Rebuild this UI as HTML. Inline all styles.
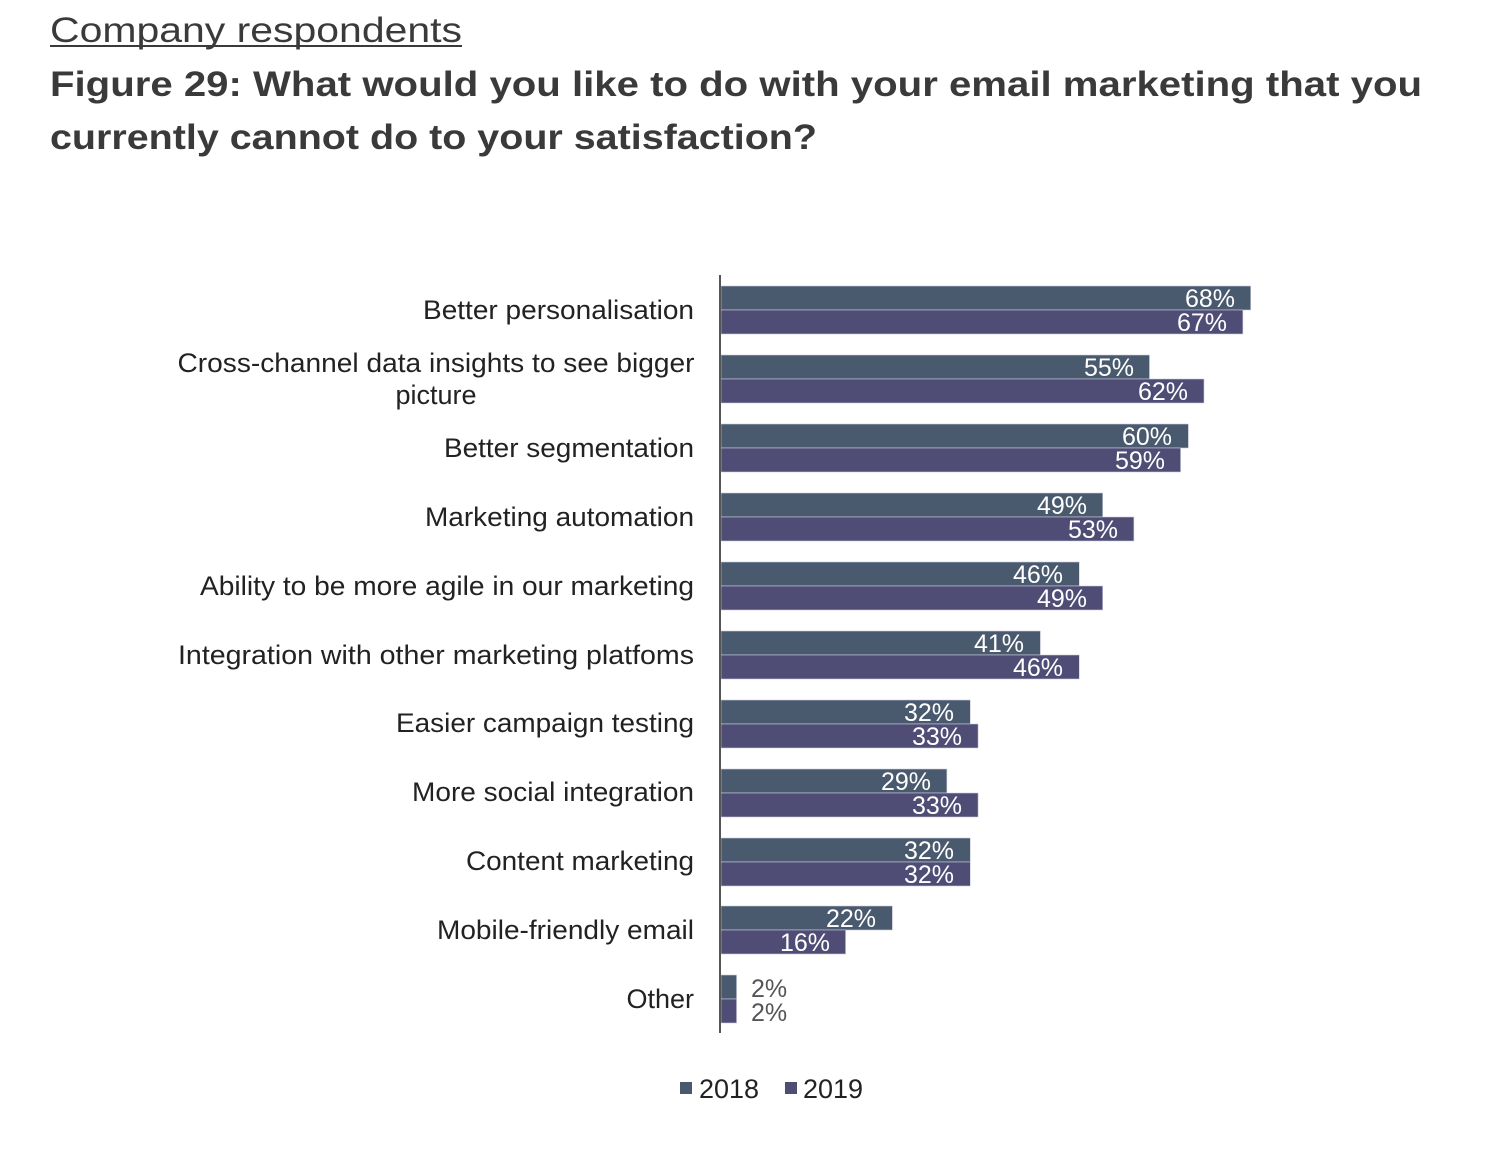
<!DOCTYPE html>
<html><head><meta charset="utf-8"><style>body{margin:0;background:#fff}svg{display:block}</style></head>
<body>
<svg width="1500" height="1172" viewBox="0 0 1500 1172" xmlns="http://www.w3.org/2000/svg" font-family="Liberation Sans, Arial, sans-serif">
<text x="50" y="42" font-size="35" fill="#3a3a3a" textLength="412" lengthAdjust="spacingAndGlyphs">Company respondents</text>
<rect x="50" y="45" width="412" height="2" fill="#3a3a3a"/>
<text x="50" y="96" font-size="35" font-weight="bold" fill="#3a3a3a" textLength="1372" lengthAdjust="spacingAndGlyphs">Figure 29: What would you like to do with your email marketing that you</text>
<text x="50" y="149" font-size="35" font-weight="bold" fill="#3a3a3a" textLength="767" lengthAdjust="spacingAndGlyphs">currently cannot do to your satisfaction?</text>

<g stroke="#ccd" stroke-width="0.6">
<rect x="721" y="286" width="529.7" height="24" fill="#4a5a6e"/><rect x="721" y="310" width="521.9" height="24" fill="#4f4d75"/>
<rect x="721" y="355" width="428.5" height="24" fill="#4a5a6e"/><rect x="721" y="379" width="483.0" height="24" fill="#4f4d75"/>
<rect x="721" y="424" width="467.4" height="24" fill="#4a5a6e"/><rect x="721" y="448" width="459.6" height="24" fill="#4f4d75"/>
<rect x="721" y="493" width="381.7" height="24" fill="#4a5a6e"/><rect x="721" y="517" width="412.9" height="24" fill="#4f4d75"/>
<rect x="721" y="562" width="358.3" height="24" fill="#4a5a6e"/><rect x="721" y="586" width="381.7" height="24" fill="#4f4d75"/>
<rect x="721" y="631" width="319.4" height="24" fill="#4a5a6e"/><rect x="721" y="655" width="358.3" height="24" fill="#4f4d75"/>
<rect x="721" y="700" width="249.3" height="24" fill="#4a5a6e"/><rect x="721" y="724" width="257.1" height="24" fill="#4f4d75"/>
<rect x="721" y="769" width="225.9" height="24" fill="#4a5a6e"/><rect x="721" y="793" width="257.1" height="24" fill="#4f4d75"/>
<rect x="721" y="838" width="249.3" height="24" fill="#4a5a6e"/><rect x="721" y="862" width="249.3" height="24" fill="#4f4d75"/>
<rect x="721" y="906" width="171.4" height="24" fill="#4a5a6e"/><rect x="721" y="930" width="124.6" height="24" fill="#4f4d75"/>
<rect x="721" y="975" width="15.6" height="24" fill="#4a5a6e"/><rect x="721" y="999" width="15.6" height="24" fill="#4f4d75"/>
</g>
<g font-size="25" fill="#fff" text-anchor="end">
<text x="1235" y="307">68%</text><text x="1227" y="331">67%</text>
<text x="1134" y="376">55%</text><text x="1188" y="400">62%</text>
<text x="1172" y="445">60%</text><text x="1165" y="469">59%</text>
<text x="1087" y="514">49%</text><text x="1118" y="538">53%</text>
<text x="1063" y="583">46%</text><text x="1087" y="607">49%</text>
<text x="1024" y="652">41%</text><text x="1063" y="676">46%</text>
<text x="954" y="721">32%</text><text x="962" y="745">33%</text>
<text x="931" y="790">29%</text><text x="962" y="814">33%</text>
<text x="954" y="859">32%</text><text x="954" y="883">32%</text>
<text x="876" y="927">22%</text><text x="830" y="951">16%</text>
</g>
<g font-size="25" fill="#555">
<text x="751" y="997">2%</text><text x="751" y="1021">2%</text>
</g>
<rect x="719" y="275" width="2" height="758" fill="#555"/>
<g font-size="27" fill="#222" text-anchor="end">
<text x="694" y="319" textLength="271" lengthAdjust="spacingAndGlyphs">Better personalisation</text>
<text x="436" y="372" text-anchor="middle" textLength="517" lengthAdjust="spacingAndGlyphs">Cross-channel data insights to see bigger</text>
<text x="436" y="404" text-anchor="middle">picture</text>
<text x="694" y="457" textLength="250" lengthAdjust="spacingAndGlyphs">Better segmentation</text>
<text x="694" y="526" textLength="269" lengthAdjust="spacingAndGlyphs">Marketing automation</text>
<text x="694" y="595" textLength="494" lengthAdjust="spacingAndGlyphs">Ability to be more agile in our marketing</text>
<text x="694" y="664" textLength="516" lengthAdjust="spacingAndGlyphs">Integration with other marketing platfoms</text>
<text x="694" y="732" textLength="298" lengthAdjust="spacingAndGlyphs">Easier campaign testing</text>
<text x="694" y="801" textLength="282" lengthAdjust="spacingAndGlyphs">More social integration</text>
<text x="694" y="870" textLength="228" lengthAdjust="spacingAndGlyphs">Content marketing</text>
<text x="694" y="939" textLength="257" lengthAdjust="spacingAndGlyphs">Mobile-friendly email</text>
<text x="694" y="1008">Other</text>
</g>
<rect x="680" y="1082" width="12" height="12" fill="#4a5a6e"/>
<text x="699" y="1098" font-size="27" fill="#222">2018</text>
<rect x="785" y="1082" width="12" height="12" fill="#4f4d75"/>
<text x="803" y="1098" font-size="27" fill="#222">2019</text>
</svg>
</body></html>
